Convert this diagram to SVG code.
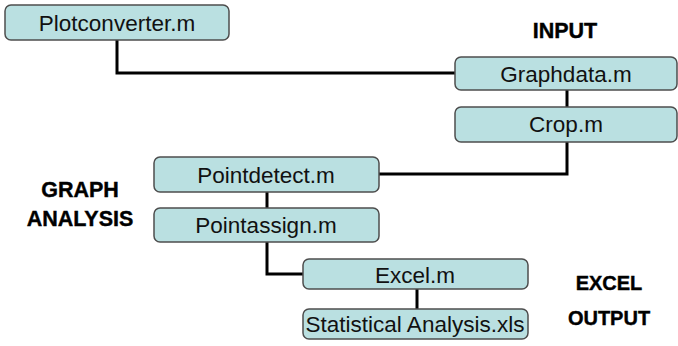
<svg xmlns="http://www.w3.org/2000/svg" width="678" height="346" viewBox="0 0 678 346">
<style>
.box{fill:#bae0e1;stroke:#4d4d4d;stroke-width:1.5}
.t{font-family:"Liberation Sans",Arial,sans-serif;font-size:22.5px;fill:#111;text-anchor:middle}
.h{font-family:"Liberation Sans",Arial,sans-serif;font-size:21.5px;font-weight:bold;fill:#000;text-anchor:middle;stroke:#000;stroke-width:0.4}
.c{fill:none;stroke:#000;stroke-width:3}
</style>
<rect width="678" height="346" fill="#fff"/>
<g id="connectors">
<polyline class="c" points="117,40 117,73 455,73"/>
<line class="c" x1="567" y1="90" x2="567" y2="107"/>
<polyline class="c" points="567,142 567,174 379,174"/>
<line class="c" x1="267" y1="192" x2="267" y2="208"/>
<polyline class="c" points="267,242 267,274 303,274"/>
<line class="c" x1="417" y1="289" x2="417" y2="309"/>
</g>
<g id="plotconverter"><rect class="box" x="5" y="5" width="224" height="35" rx="6"/><text class="t" x="117" y="31">Plotconverter.m</text></g>
<g id="graphdata"><rect class="box" x="455" y="57" width="222" height="33" rx="6"/><text class="t" x="566" y="82">Graphdata.m</text></g>
<g id="crop"><rect class="box" x="455" y="107" width="222" height="35" rx="6"/><text class="t" x="566" y="132">Crop.m</text></g>
<g id="pointdetect"><rect class="box" x="154" y="157" width="225" height="35" rx="6"/><text class="t" x="266" y="183">Pointdetect.m</text></g>
<g id="pointassign"><rect class="box" x="154" y="208" width="225" height="34" rx="6"/><text class="t" x="266" y="233">Pointassign.m</text></g>
<g id="excel"><rect class="box" x="303" y="259" width="225" height="30" rx="6"/><text class="t" x="415" y="283">Excel.m</text></g>
<g id="stats"><rect class="box" x="303" y="309" width="225" height="30" rx="6"/><text class="t" x="415" y="332">Statistical Analysis.xls</text></g>
<g id="labels">
<text class="h" x="565" y="38">INPUT</text>
<text class="h" x="80" y="197">GRAPH</text>
<text class="h" x="80" y="226">ANALYSIS</text>
<text class="h" x="609" y="290" style="font-size:20px">EXCEL</text>
<text class="h" x="609" y="325" style="font-size:20px">OUTPUT</text>
</g>
</svg>
